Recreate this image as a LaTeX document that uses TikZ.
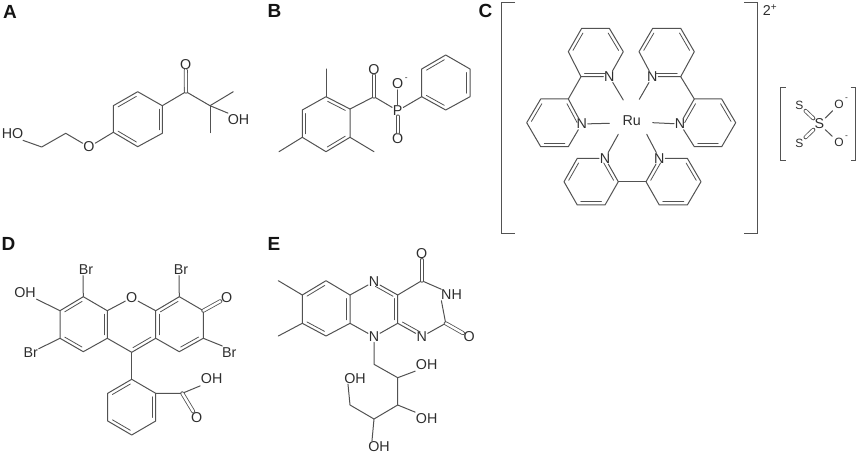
\documentclass[tikz,border=0pt]{standalone}
\usepackage{fontspec}
\setmainfont{Liberation Sans}
\usetikzlibrary{calc,positioning}

\tikzset{
	bond/.style={draw=black!68,line width=1pt,line cap=round,line join=round},
	cobond/.style={bond,double=white,double distance=2.4pt,line width=0.8pt},
	atom/.style={inner sep=0.6pt,text=black!82,font=\fontsize{14.3}{14}\selectfont},
	smallatom/.style={atom,inner sep=2pt,font=\fontsize{12}{12}\selectfont},
	charge/.style={inner sep=0pt,text=black!82,font=\fontsize{8.5}{8}\selectfont},
	panel/.style={inner sep=0pt,text=black!92,font=\fontsize{19}{19}\selectfont\bfseries},
	bracket/.style={draw=black!68,line width=1pt},
}
% inner line of a ring bond, ring lies to the right of #1 -> #2
\newcommand{\inbond}[2]{\draw[bond,line width=0.8pt,shorten >=3.5pt,shorten <=3.5pt] ($(#1)!3.4pt!-90:(#2)$) -- ($(#2)!3.4pt!90:(#1)$);}

\begin{document}
\begin{tikzpicture}[x=1pt,y=-1pt]
	\useasboundingbox (0,0) rectangle (858,454);

	\node[panel](lblA) at (10,11.5){A};
	\node[panel](lblB) at (274.5,10.5){B};
	\node[panel](lblC) at (485.5,10.5){C};
	\node[panel](lblD) at (8.5,244){D};
	\node[panel](lblE) at (274,244){E};

	% A
	\coordinate (a1) at (137.7,91.7); \coordinate (a2) at (162.3,105.7); \coordinate (a3) at (162.3,133.3);
	\coordinate (a4) at (137.7,146.7); \coordinate (a5) at (113.3,132.3); \coordinate (a6) at (113.3,105.7);
	\coordinate (ac) at (186,91.7); \coordinate (aq) at (210,105.7);
	\coordinate (am1) at (233.3,91.7); \coordinate (am2) at (210,132.7);
	\coordinate (ae1) at (65.7,133.3); \coordinate (ae2) at (41.7,147);
	\node[atom](aO) at (185.7,64.3){O};
	\node[atom](aOH) at (238.5,120){OH};
	\node[atom](aOe) at (89,147){O};
	\node[atom](aHO) at (12.5,133.5){HO};
	\draw[bond] (a1) -- (a2) -- (a3) -- (a4) -- (a5) -- (a6) -- cycle;
	\inbond{a6}{a1} \inbond{a2}{a3} \inbond{a4}{a5}
	\draw[bond] (a2) -- (ac) -- (aq) -- (am1);
	\draw[bond] (aq) -- (am2);
	\draw[bond] (aq) -- ([xshift=1pt,yshift=1pt]aOH.north west);
	\draw[cobond] (ac) -- (aO);
	\draw[bond] (a5) -- (aOe) -- (ae1) -- (ae2) -- ([xshift=-1pt,yshift=-1pt]aHO.south east);

	% B
	\coordinate (b1) at (350,109); \coordinate (b2) at (326,96.7); \coordinate (b3) at (302.3,110);
	\coordinate (b4) at (302.3,137.3); \coordinate (b5) at (326,151.7); \coordinate (b6) at (350,137.3);
	\coordinate (bm1) at (326,69); \coordinate (bm2) at (279,151.7); \coordinate (bm3) at (374,151.7);
	\coordinate (bc) at (374,96.7);
	\coordinate (p1) at (421.7,96.7); \coordinate (p2) at (421.7,69); \coordinate (p3) at (445.7,55);
	\coordinate (p4) at (470,69); \coordinate (p5) at (470,96.7); \coordinate (p6) at (445.7,110);
	\node[atom](bO) at (374,69.5){O};
	\node[atom](bP) at (397.7,110.7){P};
	\node[atom](bOm) at (397.7,84){O};
	\node[charge,right=0.5pt of bOm.north east,yshift=-1pt](bch){-};
	\node[atom](bOd) at (397.7,138.3){O};
	\draw[bond] (b1) -- (b2) -- (b3) -- (b4) -- (b5) -- (b6) -- cycle;
	\inbond{b2}{b1} \inbond{b4}{b3} \inbond{b6}{b5}
	\draw[bond] (b2) -- (bm1);
	\draw[bond] (b4) -- (bm2);
	\draw[bond] (b6) -- (bm3);
	\draw[bond] (b1) -- (bc) -- (bP) -- (p1);
	\draw[cobond] (bc) -- (bO);
	\draw[bond] (bP) -- (bOm);
	\draw[cobond] (bP) -- (bOd);
	\draw[bond] (p1) -- (p2) -- (p3) -- (p4) -- (p5) -- (p6) -- cycle;
	\inbond{p2}{p3} \inbond{p4}{p5} \inbond{p6}{p1}

	% C
	\node[atom](ru) at (631.7,120.7){Ru};
	\node[atom](chg) at (770,10.5){2\textsuperscript{+}};
	\coordinate (bl1) at (515,2.7); \coordinate (bl2) at (501,2.7); \coordinate (bl3) at (501,233.3); \coordinate (bl4) at (515,233.3);
	\coordinate (br1) at (744,2.7); \coordinate (br2) at (757.7,2.7); \coordinate (br3) at (757.7,233.3); \coordinate (br4) at (744,233.3);
	\draw[bracket] (bl1) -- (bl2) -- (bl3) -- (bl4);
	\draw[bracket] (br1) -- (br2) -- (br3) -- (br4);
	% upper left
	\node[atom](n1) at (609.3,76.7){N};
	\coordinate (u2) at (581,76.7); \coordinate (u3) at (568.3,51.7); \coordinate (u4) at (581.7,28.3);
	\coordinate (u5) at (609.3,28.3); \coordinate (u6) at (623.3,51.7);
	\draw[bond] (n1) -- (u2) -- (u3) -- (u4) -- (u5) -- (u6) -- (n1);
	\inbond{n1}{u2} \inbond{u3}{u4} \inbond{u5}{u6}
	\node[atom](n2) at (581.7,124){N};
	\coordinate (v2) at (568.3,99); \coordinate (v3) at (540.7,99); \coordinate (v4) at (526.7,122.7);
	\coordinate (v5) at (540.7,146.7); \coordinate (v6) at (568.3,146.7);
	\draw[bond] (n2) -- (v2) -- (v3) -- (v4) -- (v5) -- (v6) -- (n2);
	\inbond{v2}{n2} \inbond{v6}{v5} \inbond{v4}{v3}
	\draw[bond] (u2) -- (v2);
	% upper right
	\node[atom](n3) at (652.3,76.7){N};
	\coordinate (w2) at (680.7,76.7); \coordinate (w3) at (694.3,51.7); \coordinate (w4) at (680.7,28.3);
	\coordinate (w5) at (652.7,28.3); \coordinate (w6) at (639,51.7);
	\draw[bond] (n3) -- (w2) -- (w3) -- (w4) -- (w5) -- (w6) -- (n3);
	\inbond{w2}{n3} \inbond{w4}{w3} \inbond{w6}{w5}
	\node[atom](n4) at (680,124){N};
	\coordinate (x2) at (694.3,99); \coordinate (x3) at (721.7,99); \coordinate (x4) at (735.7,122.7);
	\coordinate (x5) at (721.7,146.7); \coordinate (x6) at (694.3,146.7);
	\draw[bond] (n4) -- (x2) -- (x3) -- (x4) -- (x5) -- (x6) -- (n4);
	\inbond{n4}{x2} \inbond{x3}{x4} \inbond{x5}{x6}
	\draw[bond] (w2) -- (x2);
	% bottom
	\node[atom](n5) at (605,158.3){N};
	\coordinate (y2) at (618.3,181.7); \coordinate (y3) at (605,205); \coordinate (y4) at (577.3,205);
	\coordinate (y5) at (564,181.7); \coordinate (y6) at (577.3,158.3);
	\draw[bond] (n5) -- (y2) -- (y3) -- (y4) -- (y5) -- (y6) -- (n5);
	\inbond{n5}{y2} \inbond{y3}{y4} \inbond{y5}{y6}
	\node[atom](n6) at (659.3,158.3){N};
	\coordinate (z2) at (646,181.7); \coordinate (z3) at (659.3,205); \coordinate (z4) at (687.3,205);
	\coordinate (z5) at (701,181.7); \coordinate (z6) at (687.3,158.3);
	\draw[bond] (n6) -- (z2) -- (z3) -- (z4) -- (z5) -- (z6) -- (n6);
	\inbond{z2}{n6} \inbond{z4}{z3} \inbond{z6}{z5}
	\draw[bond] (y2) -- (z2);
	% ligand bonds, they stop short of the metal
	\coordinate (r1) at (623.3,100); \coordinate (r2) at (609.3,123.3); \coordinate (r3) at (639.3,99.3);
	\coordinate (r4) at (652.7,122.7); \coordinate (r5) at (618.3,134.3); \coordinate (r6) at (646.7,134.3);
	\draw[bond] (n1) -- (r1);
	\draw[bond] (n2) -- (r2);
	\draw[bond] (n3) -- (r3);
	\draw[bond] (n4) -- (r4);
	\draw[bond] (n5) -- (r5);
	\draw[bond] (n6) -- (r6);

	% thiosulfate
	\coordinate (tl1) at (785.7,87.3); \coordinate (tl2) at (780.7,87.3); \coordinate (tl3) at (780.7,161); \coordinate (tl4) at (785.7,161);
	\coordinate (tr1) at (850.7,87.3); \coordinate (tr2) at (855.7,87.3); \coordinate (tr3) at (855.7,161); \coordinate (tr4) at (850.7,161);
	\draw[bracket] (tl1) -- (tl2) -- (tl3) -- (tl4);
	\draw[bracket] (tr1) -- (tr2) -- (tr3) -- (tr4);
	\node[atom,inner sep=1pt](s0) at (819.3,124){S};
	\node[smallatom](s1) at (799.3,105){S};
	\node[smallatom](s2) at (799.3,143.3){S};
	\node[smallatom](to1) at (839,104.3){O};
	\node[smallatom](to2) at (839,142.7){O};
	\node[charge,right=-1pt of to1.north east,yshift=-1pt](tch1){-};
	\node[charge,right=-1pt of to2.north east,yshift=-1pt](tch2){-};
	\draw[cobond] (s0) -- (s1);
	\draw[cobond] (s0) -- (s2);
	\draw[bond] (s0) -- (to1);
	\draw[bond] (s0) -- (to2);

	% D
	\coordinate (d1) at (83.3,296.7); \coordinate (d2) at (107.3,310.7); \coordinate (d3) at (107.3,338.3);
	\coordinate (d4) at (83.3,351.7); \coordinate (d5) at (60,338.3); \coordinate (d6) at (60,310.7);
	\coordinate (e1) at (179.3,296.7); \coordinate (e2) at (203.3,310.7); \coordinate (e3) at (203.3,338.3);
	\coordinate (e4) at (179.3,351.7); \coordinate (e5) at (155.7,338.3); \coordinate (e6) at (155.7,310.7);
	\coordinate (d9) at (131.7,352.3);
	\coordinate (f1) at (131.7,379.3); \coordinate (f2) at (155.7,393.3); \coordinate (f3) at (155.7,421);
	\coordinate (f4) at (131.7,435); \coordinate (f5) at (107.7,421); \coordinate (f6) at (107.7,393.3);
	\coordinate (fc) at (182.3,393.3);
	\node[atom](dO) at (131.7,297.7){O};
	\node[atom](dBr1) at (86,270){Br};
	\node[atom](dBr2) at (181,270){Br};
	\node[atom](dBr3) at (30.7,352.7){Br};
	\node[atom](dBr4) at (229.3,352.7){Br};
	\node[atom](dOH) at (25,292.3){OH};
	\node[atom](dOd) at (226.7,297.7){O};
	\node[atom](fOH) at (211.7,379){OH};
	\node[atom](fO) at (196.7,417.3){O};
	\draw[bond] (d1) -- (d2) -- (d3) -- (d4) -- (d5) -- (d6) -- cycle;
	\inbond{d6}{d1} \inbond{d2}{d3} \inbond{d4}{d5}
	\draw[bond] (e1) -- (e2) -- (e3) -- (e4) -- (e5) -- (e6) -- cycle;
	\inbond{e6}{e1} \inbond{e3}{e4} \inbond{e5}{e6}
	\draw[bond] (d2) -- (dO) -- (e6);
	\draw[bond] (d3) -- (d9) -- (e5);
	\inbond{e5}{d9}
	\draw[bond] (d9) -- (f1);
	\draw[bond] (d1) -- ([xshift=-3pt]dBr1.south);
	\draw[bond] (e1) -- ([xshift=-2pt]dBr2.south);
	\draw[bond] (d5) -- (dBr3);
	\draw[bond] (e3) -- ([xshift=1pt,yshift=1pt]dBr4.north west);
	\draw[bond] (d6) -- ([yshift=-1pt]dOH.south east);
	\draw[cobond] (e2) -- (dOd);
	\draw[bond] (f1) -- (f2) -- (f3) -- (f4) -- (f5) -- (f6) -- cycle;
	\inbond{f6}{f1} \inbond{f2}{f3} \inbond{f4}{f5}
	\draw[bond] (f2) -- (fc) -- ([yshift=-1pt]fOH.south west);
	\draw[cobond] (fc) -- (fO);

	% E
	\coordinate (g1) at (326,280.7); \coordinate (g2) at (350,295); \coordinate (g3) at (350,323.3);
	\coordinate (g4) at (326,336); \coordinate (g5) at (302.3,323.3); \coordinate (g6) at (302.3,295);
	\coordinate (gm1) at (278.3,280.7); \coordinate (gm2) at (278.3,336);
	\coordinate (h1) at (397.7,295); \coordinate (h2) at (397.7,323.3);
	\coordinate (h3) at (421.7,280.7); \coordinate (h4) at (445.7,323.3);
	\coordinate (k1) at (374,364.3); \coordinate (k2) at (397.7,377.7); \coordinate (k3) at (397.7,405);
	\coordinate (k4) at (374,419); \coordinate (k5) at (350,405);
	\node[atom](gN1) at (374,281.7){N};
	\node[atom](gN2) at (374,336.7){N};
	\node[atom](gN3) at (421.7,336.7){N};
	\node[atom](gNH) at (451.5,295){NH};
	\node[atom](gO1) at (421.7,254){O};
	\node[atom](gO2) at (469.3,336.7){O};
	\node[atom](kOH1) at (426.7,364.3){OH};
	\node[atom](kOH2) at (426.7,419){OH};
	\node[atom](kOH3) at (379,446.7){OH};
	\node[atom](kOH4) at (355,378.3){OH};
	\draw[bond] (g1) -- (g2) -- (g3) -- (g4) -- (g5) -- (g6) -- cycle;
	\inbond{g6}{g1} \inbond{g2}{g3} \inbond{g4}{g5}
	\draw[bond] (g6) -- (gm1);
	\draw[bond] (g5) -- (gm2);
	\draw[bond] (g2) -- (gN1) -- (h1) -- (h2) -- (gN2) -- (g3);
	\inbond{gN1}{h1} \inbond{h1}{h2}
	\draw[bond] (h1) -- (h3) -- ([xshift=1pt]gNH.north west);
	\draw[bond] ([xshift=1pt]gNH.south west) -- (h4) -- (gN3) -- (h2);
	\inbond{gN3}{h2}
	\draw[cobond] (h3) -- (gO1);
	\draw[cobond] (h4) -- (gO2);
	\draw[bond] (gN2) -- (k1) -- (k2) -- (k3) -- (k4) -- (k5) -- ([xshift=4.5pt]kOH4.south west);
	\draw[bond] (k2) -- ([yshift=-1pt]kOH1.south west);
	\draw[bond] (k3) -- ([yshift=1pt]kOH2.north west);
	\draw[bond] (k4) -- ([xshift=4.5pt]kOH3.north west);
\end{tikzpicture}
\end{document}
